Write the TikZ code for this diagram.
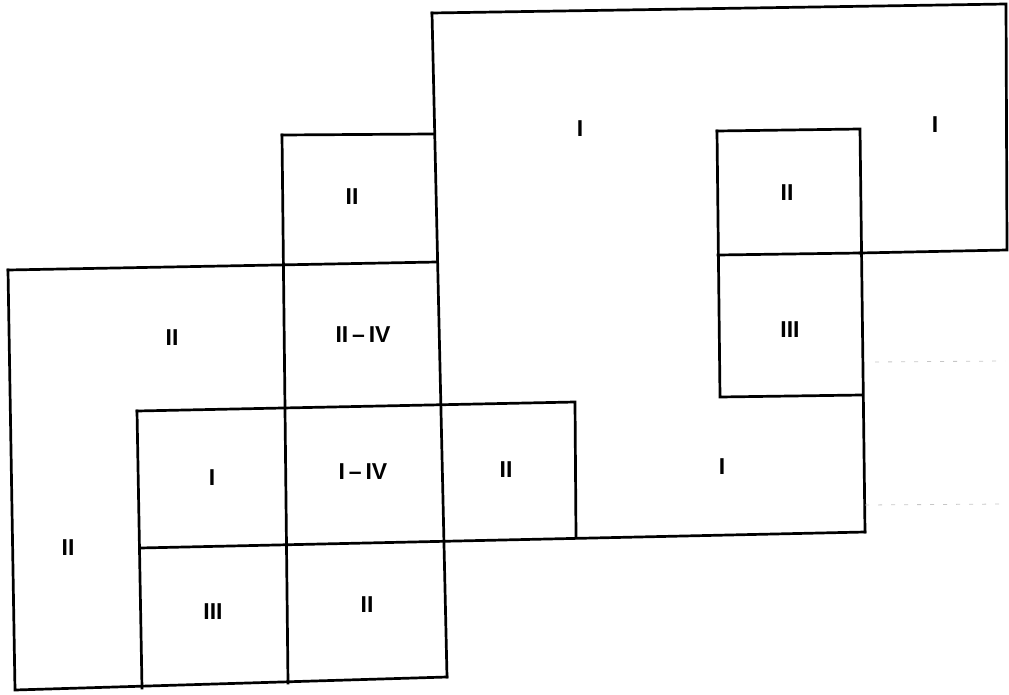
\documentclass[tikz,border=0pt]{standalone}
\usepackage{fontspec}
\setmainfont{Liberation Sans}
\begin{document}
\begin{tikzpicture}[x=1pt,y=-1pt,
  edge/.style={line width=2.7pt,line join=miter,line cap=rect},
  faint/.style={gray!45,line width=0.8pt,dash pattern=on 4pt off 9pt},
  lbl/.style={font=\fontsize{23}{26}\selectfont\bfseries,inner sep=0pt}]
\useasboundingbox (0,0) rectangle (1009,695);
% left block
\draw[edge] (8,270) -- (437,262);
\draw[edge] (8,270) -- (15,690) -- (447,677);
\draw[edge] (282,135) -- (433,134);
\draw[edge] (282,135) -- (288,683);
\draw[edge] (137,411) -- (575,402) -- (576,537);
\draw[edge] (137,411) -- (142,688);
\draw[edge] (140,548) -- (865,532);
% right block
\draw[edge] (432,13) -- (1006,4) -- (1007,250) -- (860,253);
\draw[edge] (432,13) -- (447,677);
\draw[edge] (717,131) -- (860,129) -- (865,532);
\draw[edge] (717,131) -- (720,397) -- (862,395);
\draw[edge] (718,255) -- (860,253);
% faint traces
\draw[faint] (875,362) -- (1005,361);
\draw[faint] (865,505) -- (1005,504);
% labels
\node[lbl] (a1) at (580,129) {I};
\node[lbl] (a2) at (935,125) {I};
\node[lbl] (a3) at (787,193) {II};
\node[lbl] (a4) at (790,330) {III};
\node[lbl] (a5) at (722,467) {I};
\node[lbl] (b1) at (352,197) {II};
\node[lbl] (b2) at (172,338) {II};
\node[lbl] (b3) at (363,335) {II\,–\,IV};
\node[lbl] (b4) at (212,478) {I};
\node[lbl] (b5) at (363,472) {I\,–\,IV};
\node[lbl] (b6) at (506,470) {II};
\node[lbl] (b7) at (68,548) {II};
\node[lbl] (b8) at (213,612) {III};
\node[lbl] (b9) at (367,605) {II};
\end{tikzpicture}
\end{document}
